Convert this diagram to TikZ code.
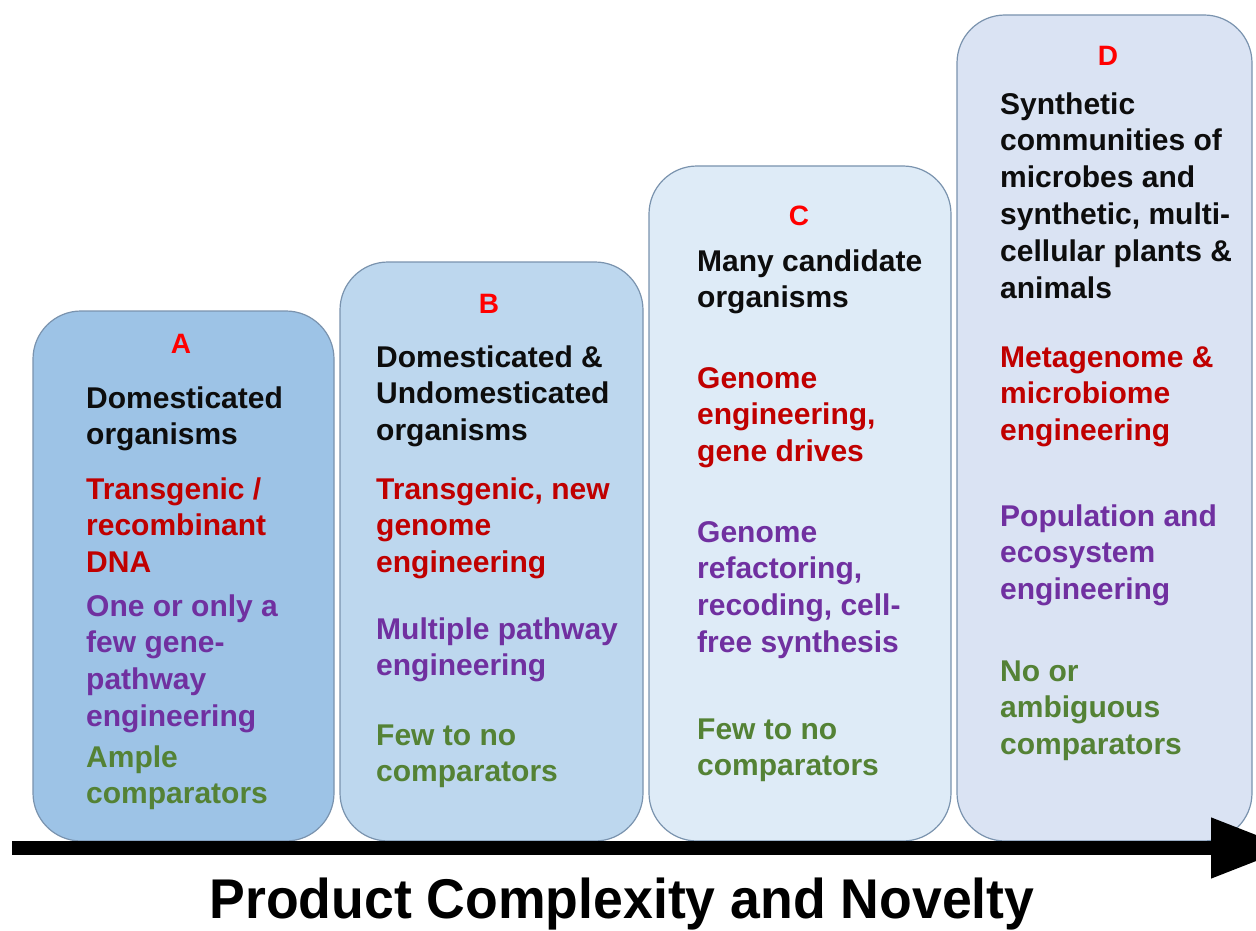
\documentclass[tikz,border=0pt]{standalone}
\usepackage{fontspec}
\setmainfont{Liberation Sans}
\usetikzlibrary{arrows.meta}
\definecolor{fillA}{HTML}{9DC3E6}
\definecolor{fillB}{HTML}{BDD7EE}
\definecolor{fillC}{HTML}{DEEBF7}
\definecolor{fillD}{HTML}{DAE3F3}
\definecolor{boxline}{HTML}{7A93AE}
\definecolor{letred}{HTML}{FF0000}
\definecolor{txtred}{HTML}{C00000}
\definecolor{txtpurple}{HTML}{7030A0}
\definecolor{txtgreen}{HTML}{548235}
\definecolor{txtblack}{HTML}{0D0D0D}
\begin{document}
\begin{tikzpicture}[x=1pt,y=-1pt,
  box/.style={draw=boxline, line width=1.2pt, rounded corners=48pt, inner sep=0pt},
  para/.style={anchor=base west, align=left, inner sep=0pt, font=\fontsize{30}{36.8}\selectfont\bfseries},
  letter/.style={anchor=base, inner sep=0pt, text=letred, font=\fontsize{28}{30}\selectfont\bfseries},
  blk/.style={para, text=txtblack},
  rd/.style={para, text=txtred},
  pu/.style={para, text=txtpurple},
  gr/.style={para, text=txtgreen},
]
\useasboundingbox (0,0) rectangle (1256,931);
\fill[white] (0,0) rectangle (1256,931);

% boxes
\node[box, fill=fillA, minimum width=301pt, minimum height=530pt] (boxA) at (183.5,576) {};
\node[box, fill=fillB, minimum width=303pt, minimum height=579pt] (boxB) at (491.5,551.5) {};
\node[box, fill=fillC, minimum width=302pt, minimum height=675pt] (boxC) at (800,503.5) {};
\node[box, fill=fillD, minimum width=295pt, minimum height=826pt] (boxD) at (1104.5,428) {};

% A  (anchor = baseline of last line)
\node[letter] (lA) at (181,353) {A};
\node[blk] (a1) at (86,444.8) {Domesticated\\organisms};
\node[rd] (a2) at (86,572.6) {Transgenic /\\recombinant\\DNA};
\node[pu] (a3) at (86,726.4) {One or only a\\few gene-\\pathway\\engineering};
\node[gr] (a4) at (86,803.8) {Ample\\comparators};

% B
\node[letter] (lB) at (489,313) {B};
\node[blk] (b1) at (376,440.6) {Domesticated \&\\Undomesticated\\organisms};
\node[rd] (b2) at (376,572.6) {Transgenic, new\\genome\\engineering};
\node[pu] (b3) at (376,675.8) {Multiple pathway\\engineering};
\node[gr] (b4) at (376,781.8) {Few to no\\comparators};

% C
\node[letter] (lC) at (799,225) {C};
\node[blk] (c1) at (697,307.8) {Many candidate\\organisms};
\node[rd] (c2) at (697,461.6) {Genome\\engineering,\\gene drives};
\node[pu] (c3) at (697,652.4) {Genome\\refactoring,\\recoding, cell-\\free synthesis};
\node[gr] (c4) at (697,775.8) {Few to no\\comparators};

% D
\node[letter] (lD) at (1108,66) {D};
\node[blk] (d1) at (1000,298) {Synthetic\\communities of\\microbes and\\synthetic, multi-\\cellular plants \&\\animals};
\node[rd] (d2) at (1000,440.6) {Metagenome \&\\microbiome\\engineering};
\node[pu] (d3) at (1000,599.6) {Population and\\ecosystem\\engineering};
\node[gr] (d4) at (1000,754.6) {No or\\ambiguous\\comparators};

% axis arrow
\coordinate (axL) at (12,848);
\coordinate (axR) at (1291,848);
\draw[line width=14pt, -{Triangle[length=80pt,width=57pt]}] (axL) -- (axR);

% title
\node[anchor=base, inner sep=0pt, font=\fontsize{56}{60}\selectfont\bfseries] (title) at (622,918) {\scalebox{0.957}[1]{Product Complexity and Novelty}};
\end{tikzpicture}
\end{document}
